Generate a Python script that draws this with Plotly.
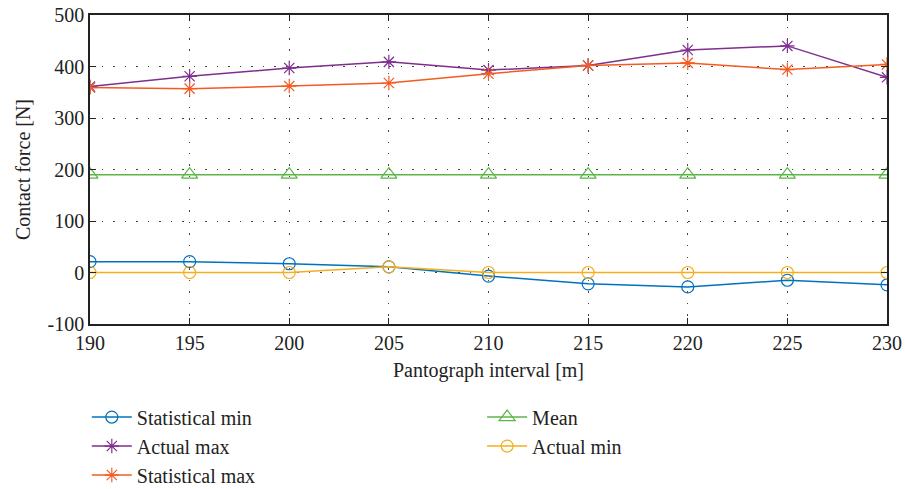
import plotly.graph_objects as go

# Pantograph interval positions [m]
interval = [190, 195, 200, 205, 210, 215, 220, 225, 230]

# Contact force series [N]
statistical_min = [21, 21, 17, 11, -7, -22, -28, -15, -24]
actual_max = [361, 381, 397, 409, 393, 402, 432, 440, 379]
statistical_max = [359, 357, 362, 368, 386, 402, 407, 394, 404]
mean_force = [190, 190, 190, 190, 190, 190, 190, 190, 190]
actual_min = [0, 0, 0, 11, 0, 0, 0, 0, 0]

x_ticks = [190, 195, 200, 205, 210, 215, 220, 225, 230]
y_ticks = [-100, 0, 100, 200, 300, 400, 500]
y_tick_text = ["-100", "0", "100", "200", "300", "400", "500"]

FONT = "Liberation Serif, Times New Roman, serif"

fig = go.Figure()

def add_series(name, y, color, symbol, size, legend):
    fig.add_trace(go.Scatter(
        x=interval, y=y, name=name, mode="lines+markers",
        line=dict(color=color, width=1.5),
        marker=dict(symbol=symbol, size=size, color=color,
                    line=dict(color=color, width=1.2)),
        legend=legend,
    ))

add_series("Statistical min", statistical_min, "#0072BD", "circle-open", 12, "legend")
add_series("Actual max", actual_max, "#7E2F8E", "asterisk-open", 12, "legend")
add_series("Statistical max", statistical_max, "#F25C22", "asterisk-open", 12, "legend")
add_series("Mean", mean_force, "#5BB548", "triangle-up-open", 14, "legend2")
add_series("Actual min", actual_min, "#F5AE1E", "circle-open", 12, "legend2")

axis_common = dict(
    showline=True, linecolor="#222222", linewidth=1.5, mirror="ticks",
    ticks="inside", ticklen=6, tickcolor="#222222", tickwidth=1.2,
    showgrid=True, gridcolor="#444444", gridwidth=1, griddash="1.5px,10px",
    zeroline=False,
    tickfont=dict(family=FONT, size=20, color="#222222"),
    title_font=dict(family=FONT, size=20, color="#222222"),
)

fig.update_xaxes(
    range=[190, 230], tickvals=x_ticks,
    title_text="Pantograph interval [m]", title_standoff=10,
    **axis_common,
)
fig.update_yaxes(
    range=[-100, 500], tickvals=y_ticks, ticktext=y_tick_text,
    title_text="Contact force [N]", title_standoff=12,
    **axis_common,
)

legend_style = dict(
    orientation="v", yanchor="top", xanchor="left",
    font=dict(family=FONT, size=20, color="#222222"),
    bgcolor="rgba(0,0,0,0)", tracegroupgap=0, itemwidth=40,
)

fig.update_layout(
    width=905, height=489,
    margin=dict(l=90, r=18, t=15, b=165, autoexpand=False),
    paper_bgcolor="white", plot_bgcolor="white",
    showlegend=True,
    legend=dict(x=-0.004, y=-0.238, **legend_style),
    legend2=dict(x=0.492, y=-0.238, **legend_style),
)

fig.write_html("out.html")
